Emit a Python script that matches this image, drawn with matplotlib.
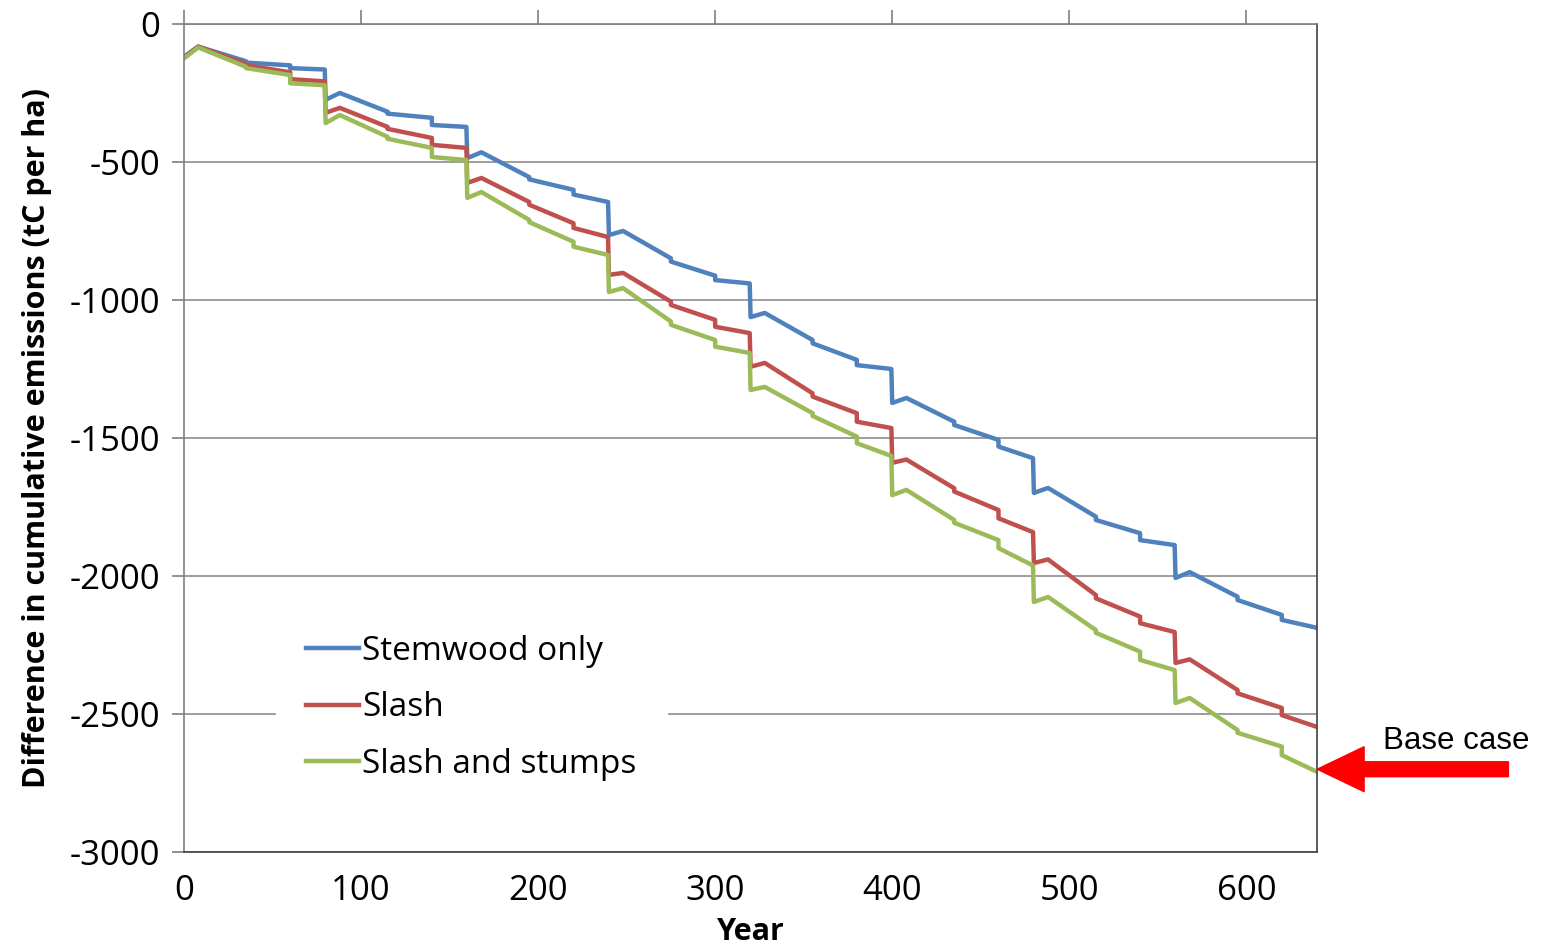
import matplotlib
matplotlib.use('Agg')
import matplotlib.pyplot as plt
from matplotlib.patches import FancyArrow

plt.rcParams['font.family'] = ['Open Sans', 'DejaVu Sans']

# values; repeated years are the vertical steps
stem_years = [0, 8, 35, 35, 60, 60, 79.5,
              80, 88, 115, 115, 140, 140, 159.5,
              160, 168, 195, 195, 220, 220, 239.5,
              240, 248, 275, 275, 300, 300, 319.5,
              320, 328, 355, 355, 380, 380, 399.5,
              400, 408, 435, 435, 460, 460, 479.5,
              480, 488, 515, 515, 540, 540, 559.5,
              560, 568, 595, 595, 620, 620, 640]
stem = [-120, -82, -135, -140, -150, -160, -165,
        -275, -250, -318, -325, -340, -366, -373,
        -486, -465, -555, -563, -601, -618, -645,
        -765, -750, -849, -861, -912, -928, -940,
        -1062, -1047, -1145, -1157, -1217, -1236, -1250,
        -1373, -1355, -1441, -1453, -1507, -1531, -1573,
        -1699, -1681, -1785, -1797, -1845, -1870, -1888,
        -2007, -1986, -2075, -2087, -2141, -2159, -2188]

slash_years = stem_years
slash = [-120, -82, -145, -150, -175, -200, -208,
         -322, -304, -373, -380, -413, -438, -449,
         -576, -558, -645, -655, -722, -739, -772,
         -909, -902, -1006, -1018, -1072, -1097, -1120,
         -1242, -1228, -1338, -1350, -1410, -1441, -1464,
         -1590, -1578, -1682, -1694, -1761, -1791, -1841,
         -1953, -1940, -2069, -2081, -2147, -2171, -2203,
         -2315, -2302, -2413, -2425, -2478, -2504, -2547]

stumps_years = stem_years
stumps = [-125, -85, -155, -160, -185, -215, -222,
          -359, -330, -409, -416, -449, -482, -493,
          -630, -609, -710, -718, -789, -807, -837,
          -971, -957, -1078, -1090, -1145, -1169, -1192,
          -1326, -1315, -1410, -1420, -1495, -1519, -1565,
          -1707, -1688, -1797, -1807, -1870, -1899, -1962,
          -2094, -2076, -2196, -2206, -2274, -2304, -2341,
          -2460, -2442, -2558, -2568, -2618, -2649, -2710]

labels = ['Stemwood only', 'Slash', 'Slash and stumps']
colors = ['#4F81BD', '#C0504D', '#9BBB59']

fig = plt.figure(figsize=(15.46, 9.47), dpi=100)
ax = fig.add_axes([0.119, 0.1003, 0.733, 0.8744])

ax.plot(stem_years, stem, color=colors[0], lw=3.2, label=labels[0])
ax.plot(slash_years, slash, color=colors[1], lw=3.2, label=labels[1])
ax.plot(stumps_years, stumps, color=colors[2], lw=3.2, label=labels[2])

ax.set_xlim(0, 640)
ax.set_ylim(-3000, 0)
ax.set_xticks(range(0, 700, 100))
ax.set_yticks(range(-3000, 1, 500))
ax.set_yticklabels([str(v) for v in range(-3000, 1, 500)])
ax.yaxis.grid(True, color='#8c8c8c', lw=1.2)
ax.set_axisbelow(True)

for side in ['top', 'bottom', 'left', 'right']:
    ax.spines[side].set_color('#7f7f7f')
    ax.spines[side].set_linewidth(1.2)
ax.spines['bottom'].set_color('#404040')
ax.spines['right'].set_color('#404040')

ax.tick_params(axis='x', top=True, bottom=False, labeltop=False, labelbottom=True,
               direction='out', length=10, width=1.2, color='#7f7f7f',
               labelsize=25, pad=6)
ax.tick_params(axis='y', direction='out', length=9, width=1.2, color='#7f7f7f',
               labelsize=25, pad=8)

ax.set_xlabel('Year', fontsize=22, fontweight='bold', labelpad=6)
ax.set_ylabel('Difference in cumulative emissions (tC per ha)', fontsize=22,
              fontweight='bold', labelpad=13)

leg = ax.legend(loc='lower left', bbox_to_anchor=(0.081, 0.05), fontsize=24,
                frameon=True, fancybox=False, handlelength=1.6, handletextpad=0.1,
                labelspacing=0.7, borderpad=0.9, borderaxespad=0)
leg.get_frame().set_facecolor('white')
leg.get_frame().set_edgecolor('white')
leg.get_frame().set_alpha(1)

arrow = FancyArrow(748, -2700, -108, 0, width=54, head_width=163, head_length=26.5,
                   length_includes_head=True, color='#ff0000', clip_on=False)
ax.add_patch(arrow)
ax.text(677, -2598, 'Base case', family='Liberation Sans', fontsize=22.5,
        ha='left', va='center', clip_on=False)

fig.savefig('out.png', dpi=100)
